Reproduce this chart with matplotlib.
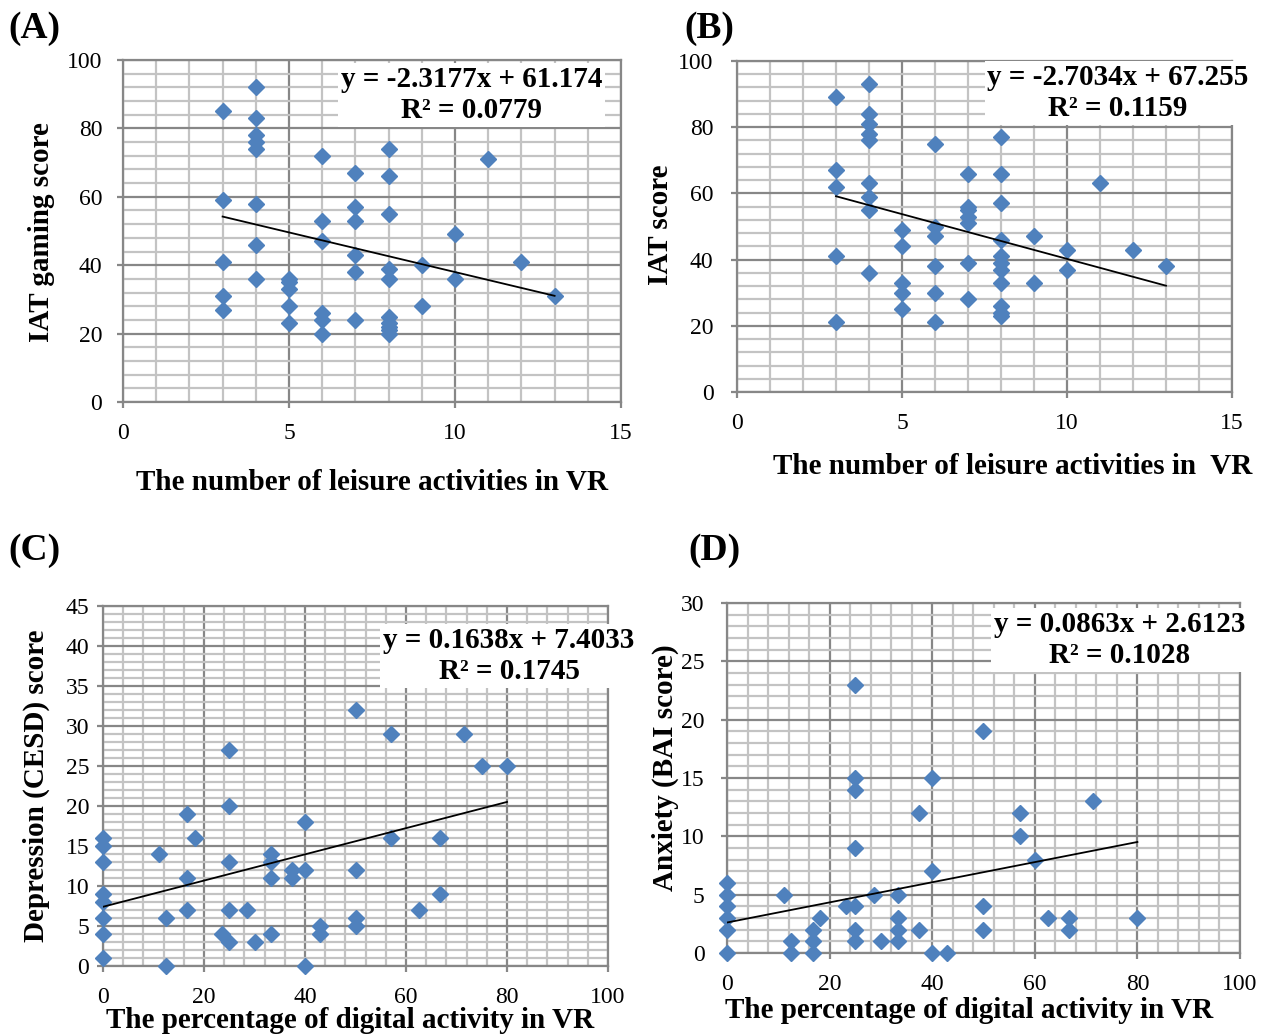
import numpy as np
import matplotlib
matplotlib.use('Agg')
import matplotlib.pyplot as plt
from matplotlib.ticker import MultipleLocator

plt.rcParams['font.family'] = ['Liberation Serif', 'DejaVu Serif']

# (A) leisure activities vs IAT gaming score
a_x = [3]*5 + [4]*8 + [5]*5 + [6]*6 + [7]*6 + [8]*10 + [9]*2 + [10]*2 + [11, 12, 13]
a_y = [85, 59, 41, 31, 27,
       92, 83, 78, 76, 74, 58, 46, 36,
       36, 35, 33, 28, 23,
       72, 53, 47, 26, 24, 20,
       67, 57, 53, 43, 38, 24,
       74, 66, 55, 39, 36, 25, 23, 22, 21, 20,
       40, 28, 49, 36, 71, 41, 31]
a_fit = (-2.3177, 61.174, 3, 13)

# (B) leisure activities vs IAT score
b_x = [3]*5 + [4]*9 + [5]*5 + [6]*6 + [7]*7 + [8]*11 + [9]*2 + [10]*2 + [11, 12, 13]
b_y = [89, 67, 62, 41, 21,
       93, 84, 81, 78, 76, 63, 59, 55, 36,
       49, 44, 33, 30, 25,
       75, 50, 47, 38, 30, 21,
       66, 56, 55, 53, 51, 39, 28,
       77, 66, 57, 46, 41, 39, 37, 33, 26, 24, 23,
       47, 33, 43, 37, 63, 43, 38]
b_fit = (-2.7034, 67.255, 3, 13)

# (C) percentage digital activity vs CESD
c_x = [0]*8 + [11.1, 12.5, 12.5, 16.7, 16.7, 16.7, 18.2, 23.5, 25, 25, 25, 25, 25,
       28.6, 30, 33.3, 33.3, 33.3, 33.3, 37.5, 37.5, 40, 40, 40, 42.9, 42.9,
       50, 50, 50, 50, 57.1, 57.1, 62.5, 66.7, 66.7, 71.4, 75, 80]
c_y = [16, 15, 13, 9, 8, 6, 4, 1, 14, 6, 0, 19, 11, 7, 16, 4, 27, 20, 13, 7, 3,
       7, 3, 14, 13, 11, 4, 12, 11, 18, 12, 0, 5, 4,
       32, 12, 6, 5, 29, 16, 7, 16, 9, 29, 25, 25]
c_fit = (0.1638, 7.4033, 0, 80)

# (D) percentage digital activity vs BAI
d_x = [0]*6 + [11.1, 12.5, 12.5, 16.7, 16.7, 16.7, 18.2, 23.1, 25, 25, 25, 25, 25, 25, 25,
       28.6, 30, 33.3, 33.3, 33.3, 33.3, 37.5, 37.5, 40, 40, 40, 42.9,
       50, 50, 50, 57.1, 57.1, 60, 62.5, 66.7, 66.7, 71.4, 80]
d_y = [6, 5, 4, 3, 2, 0, 5, 1, 0, 2, 1, 0, 3, 4, 23, 15, 14, 9, 4, 2, 1,
       5, 1, 5, 3, 2, 1, 12, 2, 15, 7, 0, 0,
       19, 4, 2, 12, 10, 8, 3, 3, 2, 13, 3]
d_fit = (0.0863, 2.6123, 0, 80)

fig = plt.figure(figsize=(12.64, 10.34), dpi=100)
W, H = 1264, 1034

major_col = '#878787'
minor_col = '#c3c3c3'
blue = '#4f81bd'


def px_axes(left, right, bottom, top):
    return fig.add_axes([left / W, 1 - bottom / H, (right - left) / W, (bottom - top) / H])


def scatter_panel(ax, x, y, fit, xlim, ylim, xmaj, xmin, ymaj, ymin, eq, eqpos, ypad):
    ax.set_xlim(*xlim)
    ax.set_ylim(*ylim)
    ax.xaxis.set_major_locator(MultipleLocator(xmaj))
    ax.xaxis.set_minor_locator(MultipleLocator(xmin))
    ax.yaxis.set_major_locator(MultipleLocator(ymaj))
    ax.yaxis.set_minor_locator(MultipleLocator(ymin))
    ax.grid(which='minor', color=minor_col, lw=1.6, zorder=0)
    ax.grid(which='major', color=major_col, lw=1.6, zorder=0)
    ax.set_axisbelow(True)
    for s in ax.spines.values():
        s.set_color(major_col)
        s.set_linewidth(1.6)
    ax.tick_params(which='major', direction='out', length=4, color=major_col,
                   labelsize=17, width=1.6)
    ax.tick_params(axis='y', pad=ypad)
    ax.tick_params(axis='x', pad=11)
    ax.tick_params(which='minor', length=0)
    ax.plot(x, y, 'D', color=blue, ms=8, mec=blue, zorder=3, clip_on=False)
    slope, icpt, x0, x1 = fit
    xs = np.array([x0, x1])
    ax.plot(xs, slope * xs + icpt, color='black', lw=1.3, zorder=4)
    ax.text(eqpos[0], eqpos[1], eq, transform=ax.transAxes, ha='center', va='center',
            fontsize=21, fontweight='bold', linespacing=1.2, zorder=5,
            bbox=dict(facecolor='white', edgecolor='none', pad=2))


ax_a = px_axes(123, 621, 402, 60)
scatter_panel(ax_a, a_x, a_y, a_fit, (0, 15), (0, 100), 5, 1, 20, 4,
              'y = -2.3177x + 61.174\nR² = 0.0779', (0.70, 0.898), 11)

ax_b = px_axes(737, 1232, 392, 61)
scatter_panel(ax_b, b_x, b_y, b_fit, (0, 15), (0, 100), 5, 1, 20, 4,
              'y = -2.7034x + 67.255\nR² = 0.1159', (0.77, 0.903), 13)

ax_c = px_axes(103, 608, 966, 606)
scatter_panel(ax_c, c_x, c_y, c_fit, (0, 100), (0, 45), 20, 4, 5, 1,
              'y = 0.1638x + 7.4033\nR² = 0.1745', (0.804, 0.861), 6)

ax_d = px_axes(727, 1240, 953, 603)
scatter_panel(ax_d, d_x, d_y, d_fit, (0, 100), (0, 30), 20, 4, 5, 1,
              'y = 0.0863x + 2.6123\nR² = 0.1028', (0.766, 0.894), 12)

# axis titles, placed by pixel centres
lab = dict(fontsize=21, fontweight='bold', ha='center', va='center')
fig.text(372 / W, 1 - 482 / H, 'The number of leisure activities in VR', **lab)
fig.text(42 / W, 1 - 232 / H, 'IAT gaming score', rotation=90, **lab)
fig.text(1013 / W, 1 - 466 / H, 'The number of leisure activities in  VR', **lab)
fig.text(660 / W, 1 - 225 / H, 'IAT score', rotation=90, **lab)
fig.text(350 / W, 1 - 1020 / H, 'The percentage of digital activity in VR', **lab)
fig.text(36 / W, 1 - 786 / H, 'Depression (CESD) score', rotation=90, **lab)
fig.text(969 / W, 1 - 1010 / H, 'The percentage of digital activity in VR', **lab)
fig.text(665 / W, 1 - 768 / H, 'Anxiety (BAI score)', rotation=90, **lab)

pan = dict(fontsize=27, fontweight='bold', ha='left', va='center')
fig.text(8 / W, 1 - 28 / H, '(A)', **pan)
fig.text(684 / W, 1 - 28 / H, '(B)', **pan)
fig.text(8 / W, 1 - 550 / H, '(C)', **pan)
fig.text(688 / W, 1 - 550 / H, '(D)', **pan)

fig.savefig('out.png', dpi=100, facecolor='white')
